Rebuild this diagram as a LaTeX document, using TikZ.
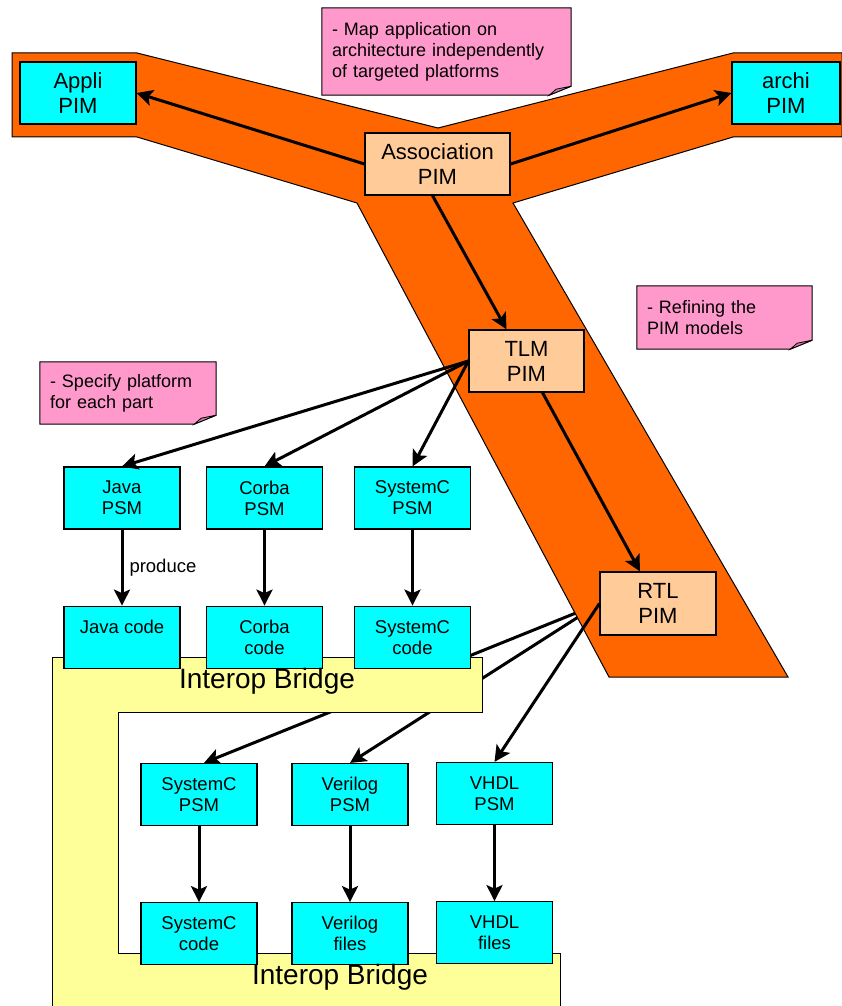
\documentclass[tikz,border=0pt]{standalone}
\usepackage{fontspec}
\setmainfont{Liberation Sans}
\usetikzlibrary{positioning,arrows.meta,backgrounds}
\definecolor{boxcyan}{HTML}{00FFFF}
\definecolor{pimpeach}{HTML}{FFCC99}
\definecolor{bandorange}{HTML}{FF6600}
\definecolor{bridgeyellow}{HTML}{FFFF99}
\definecolor{notepink}{HTML}{FF99CC}
\definecolor{foldpink}{HTML}{D97AAA}

\begin{document}
\begin{tikzpicture}[x=1pt, y=-1pt, align=center,
    box/.style={draw, line width=1.2pt, fill=boxcyan, minimum width=116pt, minimum height=62pt, inner sep=0pt, font=\fontsize{18.5}{21}\selectfont},
    pim/.style={box, font=\fontsize{22}{25}\selectfont},
    note/.style={align=left, inner xsep=10pt, inner ysep=0pt, font=\fontsize{18}{21}\selectfont},
    flow/.style={line width=3pt, -{Stealth[length=16pt, width=16pt, inset=3.5pt]}}]
        \useasboundingbox (0,0) rectangle (842,1006);

        \node [pim] (appli) at (78,93) {Appli\\PIM};
        \node [pim, minimum width=108pt] (archi) at (786,93) {archi\\PIM};
        \node [pim, fill=pimpeach, minimum width=145pt] (assoc) at (437.5,164) {Association\\PIM};
        \node [pim, fill=pimpeach, minimum width=115pt] (tlm) at (526.5,361) {TLM\\PIM};
        \node [pim, fill=pimpeach, minimum height=63pt] (rtl) at (658,603.5) {RTL\\PIM};

        \node [box] (javapsm) at (122,498) {Java\\PSM};
        \node [box] (corbapsm) at (264.5,498) {Corba\\PSM};
        \node [box] (scpsm) at (412.5,498) {SystemC\\PSM};
        \node [box, below=76pt of javapsm] (javacode) {Java code\\\phantom{x}};
        \node [box, below=76pt of corbapsm] (corbacode) {Corba\\code};
        \node [box, below=76pt of scpsm] (sccode) {SystemC\\code};

        \node [box] (hwscpsm) at (199,794.5) {SystemC\\PSM};
        \node [box] (verilogpsm) at (350,794.5) {Verilog\\PSM};
        \node [box] (vhdlpsm) at (494.5,793.5) {VHDL\\PSM};
        \node [box, below=76pt of hwscpsm] (hwsccode) {SystemC\\code};
        \node [box, below=76pt of verilogpsm] (verilogfiles) {Verilog\\files};
        \node [box, below=76pt of vhdlpsm] (vhdlfiles) {VHDL\\files};

        \node [font=\fontsize{28}{32}\selectfont] (bridgetop) at (267,681) {Interop Bridge};
        \node [font=\fontsize{28}{32}\selectfont] (bridgebottom) at (340,977) {Interop Bridge};

        \node [note, text width=229pt, minimum height=87pt] (mapnote) at (446.5,51.5) {- Map application on\\architecture independently\\of targeted platforms};
        \node [note, text width=155pt, minimum height=63pt] (refinenote) at (724.5,317.5) {- Refining the\\PIM models};
        \node [note, text width=156pt, minimum height=62pt] (platformnote) at (128,393) {- Specify platform\\for each part};

        \draw[flow] (assoc.west) -- (appli.east);
        \draw[flow] (assoc.east) -- (archi.west);
        \draw[flow] ([xshift=-5pt]assoc.south) -- ([xshift=-20pt]tlm.north);
        \draw[flow] ([xshift=16pt]tlm.south) -- ([xshift=-18pt]rtl.north);

        \foreach \psm in {javapsm,corbapsm,scpsm}
            \draw[flow] (tlm.west) -- (\psm.north);
        \draw[flow] (javapsm) -- node[right, inner sep=6pt, font=\fontsize{18.5}{21}\selectfont] {produce} (javacode);
        \draw[flow] (corbapsm) -- (corbacode);
        \draw[flow] (scpsm) -- (sccode);

        \draw[flow] (rtl.west) -- (vhdlpsm.north);
        \draw[flow] (hwscpsm) -- (hwsccode);
        \draw[flow] (verilogpsm) -- (verilogfiles);
        \draw[flow] (vhdlpsm) -- (vhdlfiles);

        \begin{scope}[on background layer]
            % these two run under the band and the bridge
            \draw[flow] (rtl.west) -- ([xshift=5pt]hwscpsm.north);
            \draw[flow] (rtl.west) -- (verilogpsm.north);

            \draw[fill=bandorange, line width=1pt] (12,53) -- (137,53) -- (438,128) -- (733,53) -- (842,53) -- (842,137) -- (733,137) -- (513,203) -- (788,677) -- (609,677) -- (357,203) -- (137,137) -- (12,137) -- cycle;
            \draw[fill=bridgeyellow, line width=1pt] (52,1010) -- (52,657) -- (482,657) -- (482,712) -- (118,712) -- (118,953) -- (560,953) -- (560,1010) -- cycle;

            \foreach \n in {mapnote,refinenote,platformnote} {
                \draw[fill=notepink, line width=1pt] (\n.north west) -- (\n.north east) -- ([yshift=9pt]\n.south east) -- ([xshift=-22pt]\n.south east) -- (\n.south west) -- cycle;
                \draw[fill=foldpink, line width=0.8pt] ([xshift=-22pt]\n.south east) -- ([xshift=-15pt,yshift=6pt]\n.south east) -- ([yshift=9pt]\n.south east) -- cycle;
            }
        \end{scope}
    \end{tikzpicture}
\end{document}
